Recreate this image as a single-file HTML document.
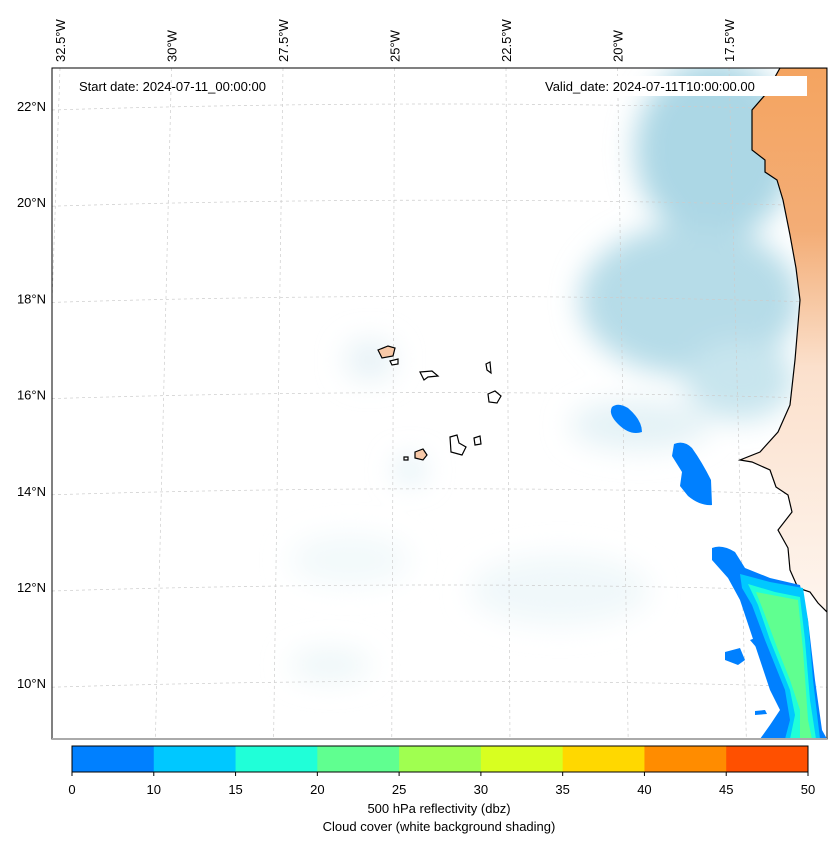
<!DOCTYPE html>
<html><head><meta charset="utf-8"><style>
body{margin:0;background:#fff;font-family:"Liberation Sans",sans-serif;}
svg text{font-family:"Liberation Sans",sans-serif;font-size:13px;fill:#000}
</style></head><body>
<svg id="chart" width="837" height="843" viewBox="0 0 837 843">
<defs>
<filter id="blur" x="-50%" y="-50%" width="200%" height="200%"><feGaussianBlur stdDeviation="14"/></filter>
<linearGradient id="landg" x1="0" y1="0" x2="0" y2="1">
<stop offset="0" stop-color="#f4a460"/><stop offset="0.3" stop-color="#f3ad76"/><stop offset="0.55" stop-color="#fbe0cc"/><stop offset="1" stop-color="#fef5ee"/></linearGradient>
<clipPath id="mapclip"><rect x="52" y="68" width="775" height="671"/></clipPath>
</defs>
<g clip-path="url(#mapclip)">
<rect x="52" y="68" width="775" height="671" fill="#fff"/>
<g filter="url(#blur)">
<ellipse cx="715" cy="150" rx="80" ry="90" fill="#acd7e5"/>
<ellipse cx="690" cy="300" rx="110" ry="75" fill="#b6dce8"/>
<ellipse cx="740" cy="380" rx="55" ry="40" fill="#c8e5ee"/>
<ellipse cx="640" cy="425" rx="70" ry="25" fill="#e4f2f6"/>
<ellipse cx="560" cy="590" rx="90" ry="35" fill="#f0f8fa"/>
<ellipse cx="350" cy="560" rx="60" ry="25" fill="#f2f9fb"/>
<ellipse cx="330" cy="665" rx="40" ry="15" fill="#ecf6f8"/>
<ellipse cx="370" cy="360" rx="25" ry="20" fill="#e6f2f6"/>
<ellipse cx="410" cy="470" rx="15" ry="12" fill="#dceef4"/>
</g>
<g stroke="#ccc" stroke-width="0.7" stroke-dasharray="3,3" fill="none" id="grid"></g>
<path d="M780,68 L827,68 L827,612 L818,603 L810,592 L798,588 L790,570 L788,548 L778,530 L792,512 L788,495 L776,487 L770,470 L752,462 L740,460 L760,452 L778,432 L790,405 L795,360 L800,300 L796,268 L790,235 L783,200 L777,180 L765,172 L765,160 L752,150 L752,110 L765,95 Z" fill="url(#landg)" stroke="#000" stroke-width="1.2"/>
<g stroke="#000" stroke-width="1.2">
<path d="M378,350 L388,346 L395,348 L393,356 L382,358 Z" fill="#f8c9a8"/>
<path d="M390,361 L398,359 L398,364 L392,365 Z" fill="#fff"/>
<path d="M420,372 L432,371 L438,376 L428,377 L424,380 Z" fill="#fff"/>
<path d="M486,364 L490,362 L491,373 L487,370 Z" fill="#fff"/>
<path d="M488,394 L495,391 L501,396 L497,403 L489,402 Z" fill="#fff"/>
<path d="M450,437 L457,435 L459,443 L466,447 L462,455 L451,452 Z" fill="#fff"/>
<path d="M474,438 L480,436 L481,444 L475,445 Z" fill="#fff"/>
<path d="M415,452 L423,449 L427,455 L423,460 L415,458 Z" fill="#f8c9a8"/>
<path d="M404,457 L408,457 L408,460 L404,460 Z" fill="#fff"/>
</g>
<g>
<path d="M612,407 Q618,402 628,408 Q642,420 642,432 Q630,436 618,424 Q608,414 612,407 Z" fill="#0080ff"/>
<path d="M674,444 Q684,440 692,448 Q702,462 711,480 L712,505 Q700,506 688,496 L680,486 L682,472 L672,456 Z" fill="#0080ff"/>
<path d="M712,548 Q722,544 735,552 L745,568 L770,578 L800,585 L808,620 L815,680 L822,730 L827,739 L760,739 L770,725 L780,710 L770,690 L760,660 L750,630 L740,600 L728,578 L712,560 Z" fill="#0080ff"/>
<path d="M740,574 L770,582 L803,588 L808,620 L813,680 L820,739 L785,739 L790,720 L785,690 L775,665 L765,640 L752,605 L742,588 Z" fill="#00c8ff"/>
<path d="M748,584 L775,592 L800,597 L805,640 L810,700 L816,739 L790,739 L795,715 L790,690 L780,665 L770,640 L758,605 Z" fill="#20ffd8"/>
<path d="M756,592 L798,600 L803,650 L808,720 L812,739 L800,739 L800,710 L790,680 L778,650 L765,615 Z" fill="#60ff90"/>
<path d="M725,652 L740,648 L745,660 L738,665 L725,660 Z" fill="#0080ff"/>
<path d="M750,640 L758,637 L762,646 L756,647 Z" fill="#0080ff"/>
<path d="M755,711 L765,710 L767,714 L755,715 Z" fill="#0080ff"/>
</g>
</g>
<rect x="52" y="68" width="775" height="671" fill="none" stroke="#000" stroke-width="1"/>
<line x1="52" y1="739" x2="827" y2="739" stroke="#aaa" stroke-width="2"/>
<text x="79" y="91">Start date: 2024-07-11_00:00:00</text>
<rect x="540" y="76" width="267" height="20" fill="#fff"/>
<text x="545" y="91">Valid_date: 2024-07-11T10:00:00.00</text>
<g id="lonlabels"></g><g id="latlabels"></g>
<g id="colorbar"></g>
<text x="439" y="813" text-anchor="middle">500 hPa reflectivity (dbz)</text>
<text x="439" y="831" text-anchor="middle">Cloud cover (white background shading)</text>
</svg>
<script>
const levels=[0,10,15,20,25,30,35,40,45,50];
const levelColors=["#0080ff","#00c8ff","#20ffd8","#60ff90","#a0ff50","#d8ff20","#ffd800","#ff8c00","#ff5000"];
const lonTicks=["32.5°W","30°W","27.5°W","25°W","22.5°W","20°W","17.5°W"];
const lonValues=[-32.5,-30,-27.5,-25,-22.5,-20,-17.5];
const latTicks=["22°N","20°N","18°N","16°N","14°N","12°N","10°N"];
const latValues=[22,20,18,16,14,12,10];
const NS="http://www.w3.org/2000/svg";
function lonX(lon){return 60+(lon+32.5)*44.6;}
function latY(lat){return 106+(22-lat)*48.1;}
const grid=document.getElementById('grid');
latValues.forEach(v=>{const y=latY(v);const p=document.createElementNS(NS,'path');
p.setAttribute('d',`M52,${y+4} Q440,${y-8} 827,${y+4}`);


grid.appendChild(p);});
lonValues.forEach(v=>{const x=lonX(v);const p=document.createElementNS(NS,'path');
const xb=x+(x-440)*0.06;
p.setAttribute('d',`M${x},68 L${xb},739`);


grid.appendChild(p);});
const ll=document.getElementById('lonlabels');
lonTicks.forEach((t,i)=>{const x=lonX(lonValues[i])+5;const e=document.createElementNS(NS,'text');
e.setAttribute('transform',`translate(${x},62) rotate(-90)`);e.textContent=t;


ll.appendChild(e);});
const la=document.getElementById('latlabels');
latTicks.forEach((t,i)=>{const e=document.createElementNS(NS,'text');
e.setAttribute('x',46);e.setAttribute('y',latY(latValues[i])+5);e.setAttribute('text-anchor','end');e.textContent=t;


la.appendChild(e);});
const cb=document.getElementById('colorbar');
const cx0=72,cw=736,cy=746,ch=26,n=levels.length-1;
for(let i=0;i<n;i++){const r=document.createElementNS(NS,'rect');
r.setAttribute('x',cx0+i*cw/n);r.setAttribute('y',cy);r.setAttribute('width',cw/n+0.5);r.setAttribute('height',ch);r.setAttribute('fill',levelColors[i]);


cb.appendChild(r);}
const fr=document.createElementNS(NS,'rect');fr.setAttribute('x',cx0);fr.setAttribute('y',cy);fr.setAttribute('width',cw);fr.setAttribute('height',ch);fr.setAttribute('fill','none');fr.setAttribute('stroke','#000');


cb.appendChild(fr);
levels.forEach((v,i)=>{const x=cx0+i*cw/n;const l=document.createElementNS(NS,'line');
l.setAttribute('x1',x);l.setAttribute('x2',x);l.setAttribute('y1',cy+ch);l.setAttribute('y2',cy+ch+4);l.setAttribute('stroke','#000');cb.appendChild(l);
const t=document.createElementNS(NS,'text');t.setAttribute('x',x);t.setAttribute('y',794);t.setAttribute('text-anchor','middle');t.textContent=v;


cb.appendChild(t);});
</script>
</body></html>
